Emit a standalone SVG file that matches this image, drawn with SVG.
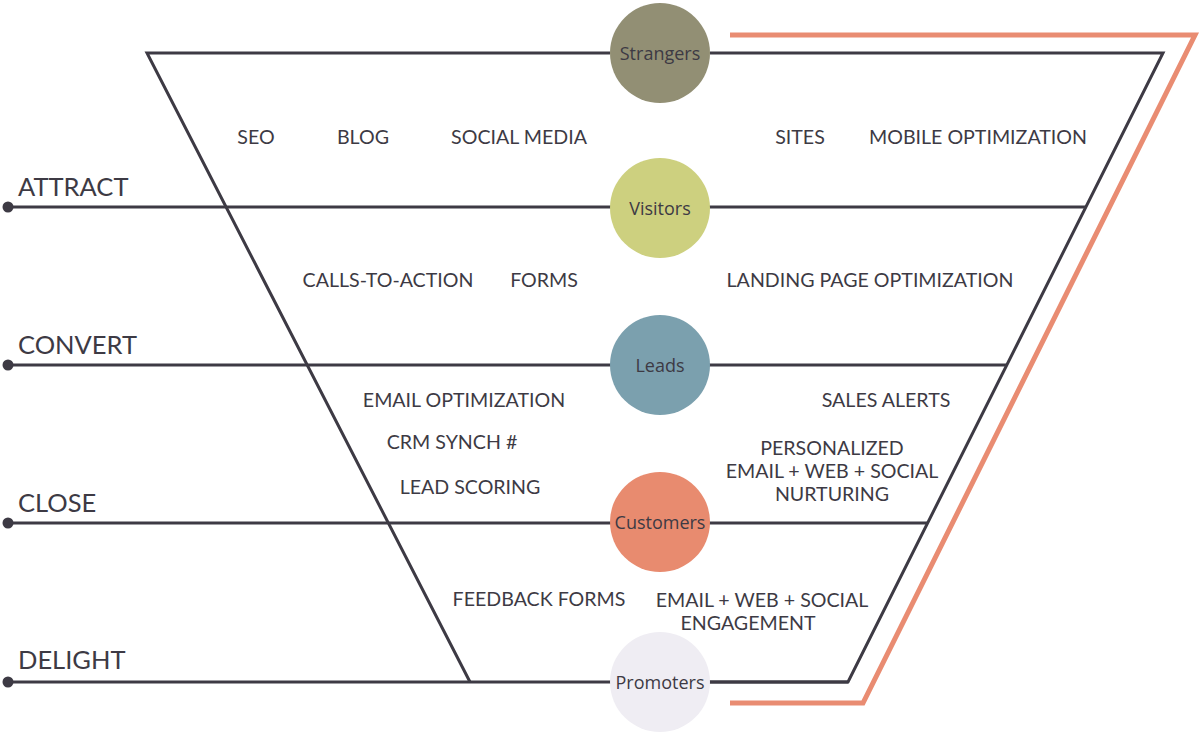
<svg xmlns="http://www.w3.org/2000/svg" width="1200" height="734" viewBox="0 0 1200 734">
<style>
.ln{fill:none;stroke:#3d3a44;stroke-width:3}
.or{fill:none;stroke:#e98c72;stroke-width:5}
.dot{fill:#3d3a44}
.stage{font-family:Lato,"Liberation Sans",sans-serif;font-size:25.5px;fill:#3d3a44}
.item{font-family:Lato,"Liberation Sans",sans-serif;font-size:19.6px;fill:#3d3a44;text-anchor:middle}
.nl{font-family:"Open Sans","Liberation Sans",sans-serif;font-size:18px;fill:#3d3a44;text-anchor:middle;dominant-baseline:central}
</style>
<rect width="1200" height="734" fill="#ffffff"/>
<g id="connectors">
<polyline class="or" points="730,35 1195,35 863,703 730,703"/>
<polyline class="ln" points="610,53 147,53 470,682"/>
<polyline class="ln" points="710,53 1163,53 848,682 710,682"/>
<line class="ln" x1="8" y1="207" x2="1086" y2="207"/>
<line class="ln" x1="8" y1="365" x2="1007" y2="365"/>
<line class="ln" x1="8" y1="523" x2="928" y2="523"/>
<line class="ln" x1="8" y1="682" x2="848" y2="682"/>
<circle class="dot" cx="8" cy="207" r="5.5"/>
<circle class="dot" cx="8" cy="365" r="5.5"/>
<circle class="dot" cx="8" cy="523" r="5.5"/>
<circle class="dot" cx="8" cy="682" r="5.5"/>
</g>
<g id="stages">
<text class="stage" x="18" y="196">ATTRACT</text>
<text class="stage" x="18" y="354">CONVERT</text>
<text class="stage" x="18" y="512">CLOSE</text>
<text class="stage" x="18" y="669">DELIGHT</text>
</g>
<g id="strangers"><circle cx="660" cy="53" r="50" fill="#928f74"/><text class="nl" x="660" y="53">Strangers</text></g>
<g id="visitors"><circle cx="660" cy="208" r="50" fill="#cdd07f"/><text class="nl" x="660" y="208">Visitors</text></g>
<g id="leads"><circle cx="660" cy="365" r="50" fill="#7ba0ae"/><text class="nl" x="660" y="365">Leads</text></g>
<g id="customers"><circle cx="660" cy="522" r="50" fill="#e88b6f"/><text class="nl" x="660" y="522">Customers</text></g>
<g id="promoters"><circle cx="660" cy="682" r="50" fill="#efedf3"/><text class="nl" x="660" y="682">Promoters</text></g>
<g id="items">
<text class="item" x="256" y="144">SEO</text>
<text class="item" x="363" y="144">BLOG</text>
<text class="item" x="519" y="144">SOCIAL MEDIA</text>
<text class="item" x="800" y="144">SITES</text>
<text class="item" x="978" y="144">MOBILE OPTIMIZATION</text>
<text class="item" x="388" y="287">CALLS-TO-ACTION</text>
<text class="item" x="544" y="287">FORMS</text>
<text class="item" x="870" y="287">LANDING PAGE OPTIMIZATION</text>
<text class="item" x="464" y="407">EMAIL OPTIMIZATION</text>
<text class="item" x="886" y="407">SALES ALERTS</text>
<text class="item" x="452" y="449">CRM SYNCH #</text>
<text class="item" x="470" y="494">LEAD SCORING</text>
<text class="item" x="832" y="455">PERSONALIZED</text>
<text class="item" x="832" y="478">EMAIL + WEB + SOCIAL</text>
<text class="item" x="832" y="501">NURTURING</text>
<text class="item" x="539" y="606">FEEDBACK FORMS</text>
<text class="item" x="762" y="607">EMAIL + WEB + SOCIAL</text>
<text class="item" x="748" y="630">ENGAGEMENT</text>
</g>
</svg>
